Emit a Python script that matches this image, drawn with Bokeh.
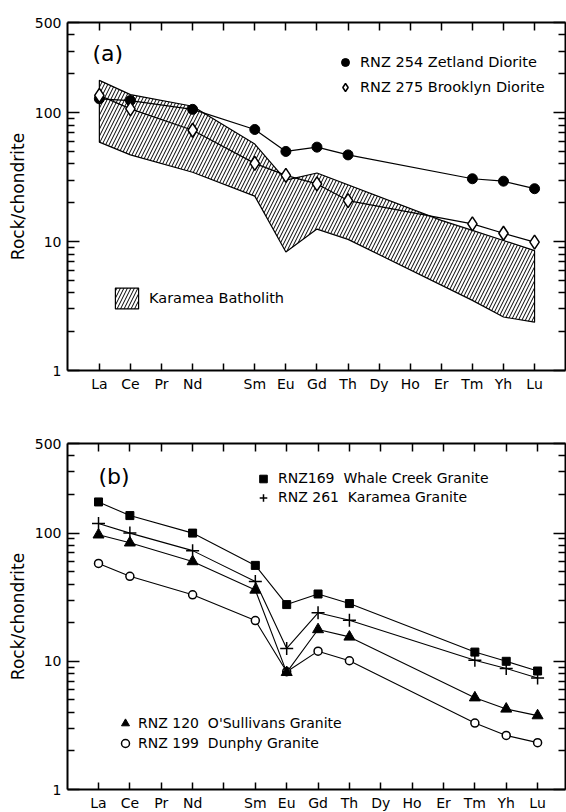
from bokeh.plotting import figure
from bokeh.models import FixedTicker, LinearAxis, LogAxis, Range1d, Legend, LegendItem, Label, BasicTickFormatter
from bokeh.layouts import column
from bokeh.embed import file_html
from bokeh.resources import INLINE

# ---------------- data ----------------
elements = ["La", "Ce", "Pr", "Nd", "", "Sm", "Eu", "Gd", "Th", "Dy", "Ho", "Er", "Tm", "Yh", "Lu"]
meas_idx = [0, 1, 3, 5, 6, 7, 8, 12, 13, 14]   # La Ce Nd Sm Eu Gd Th Tm Yh Lu

# panel (a)
zetland = [128, 124, 106, 74, 50, 54, 47, 30.7, 29.4, 25.7]
brooklyn = [136, 107, 73, 40.4, 32.6, 28, 20.8, 13.7, 11.6, 9.9]
band_upper_idx = [0, 1, 3, 5, 6, 7, 11, 12, 13, 14]
band_upper = [178, 138, 112, 57, 30, 34, 14.6, 12.2, 10.2, 8.5]
band_lower_idx = [0, 1, 3, 5, 6, 7, 8, 12, 13, 14]
band_lower = [59, 47, 34.5, 22.5, 8.3, 12.5, 10.4, 3.5, 2.6, 2.37]

# panel (b)
whale = [175, 137, 100, 56, 27.7, 33.5, 28.2, 11.8, 10.0, 8.4]
karamea = [119, 100, 73, 42, 12.6, 23.9, 20.9, 10.2, 8.8, 7.4]
osullivans = [97, 84, 60, 36, 8.2, 17.7, 15.5, 5.2, 4.25, 3.77]
dunphy = [58, 46, 33, 20.8, 8.3, 12.0, 10.1, 3.3, 2.64, 2.32]

y_major = [1, 10, 100, 500]
y_minor = [2, 3, 4, 5, 6, 7, 8, 9, 20, 30, 40, 50, 60, 70, 80, 90, 200, 300, 400]

FONT = "DejaVu Sans"


def make_fig(height, top, left, bottom, xr):
    p = figure(width=566, height=height, y_axis_type="log",
               x_range=Range1d(*xr), y_range=Range1d(1, 500),
               output_backend="svg", toolbar_location=None,
               min_border_top=top, min_border_left=left, min_border_right=1,
               min_border_bottom=bottom)
    p.outline_line_color = None
    p.grid.visible = False
    p.background_fill_color = "white"
    p.border_fill_color = "white"

    xt = FixedTicker(ticks=list(range(len(elements))))
    yt = FixedTicker(ticks=y_major, minor_ticks=y_minor)

    # bottom axis
    xa = p.xaxis[0]
    xa.ticker = xt
    xa.major_label_overrides = {i: n for i, n in enumerate(elements)}
    xa.major_tick_in = 7
    xa.major_tick_out = 0
    xa.minor_tick_in = 0
    xa.minor_tick_out = 0
    xa.major_label_standoff = 5
    xa.major_label_text_font = FONT
    xa.major_label_text_font_size = "14px"
    xa.major_label_text_color = "black"

    # left axis
    ya = p.yaxis[0]
    ya.ticker = yt
    ya.formatter = BasicTickFormatter()
    ya.major_tick_in = 12
    ya.major_tick_out = 0
    ya.minor_tick_in = 7
    ya.minor_tick_out = 0
    ya.major_label_standoff = 6
    ya.major_label_text_font = FONT
    ya.major_label_text_font_size = "14px"
    ya.major_label_text_color = "black"
    ya.axis_label = "Rock/chondrite"
    ya.axis_label_text_font = FONT
    ya.axis_label_text_font_size = "17px"
    ya.axis_label_text_font_style = "normal"
    ya.axis_label_text_color = "black"
    ya.axis_label_standoff = 4

    top_ax = LinearAxis(ticker=xt, major_label_overrides={i: "" for i in range(len(elements))},
                        major_tick_in=8, major_tick_out=0, minor_tick_in=0, minor_tick_out=0,
                        major_label_standoff=0)
    right_ax = LogAxis(ticker=yt, major_label_overrides={v: "" for v in y_major},
                       major_tick_in=12, major_tick_out=0, minor_tick_in=7, minor_tick_out=0,
                       major_label_standoff=0)
    p.add_layout(top_ax, "above")
    p.add_layout(right_ax, "right")

    for ax in [xa, ya, top_ax, right_ax]:
        ax.axis_line_width = 2
        ax.axis_line_color = "black"
        ax.major_tick_line_width = 1.5
        ax.major_tick_line_color = "black"
        ax.minor_tick_line_width = 1.5
        ax.minor_tick_line_color = "black"
    return p


# ---------------- panel (a) ----------------
pa = make_fig(400, 22, 65, 30, (-1.025, 14.995))

bx = band_upper_idx + band_lower_idx[::-1]
by = band_upper + band_lower[::-1]
band = pa.patch(bx, by, fill_alpha=0, hatch_pattern="/", hatch_color="black",
                hatch_weight=1.0, hatch_scale=7, line_color="black", line_width=1.2)

pa.line(meas_idx, zetland, line_color="black", line_width=1.2)
pa.line(meas_idx, brooklyn, line_color="black", line_width=1.2)
r_zet = pa.scatter(meas_idx, zetland, marker="circle", size=10, fill_color="black", line_color="black")
r_bro = pa.scatter(meas_idx, brooklyn, marker="diamond", size=14, fill_color="white",
                   line_color="black", line_width=1.5)

leg_a1 = Legend(items=[LegendItem(label="RNZ 254 Zetland Diorite", renderers=[r_zet]),
                       LegendItem(label="RNZ 275 Brooklyn Diorite", renderers=[r_bro])],
                location=(268, 273), padding=0, margin=0, spacing=5,
                glyph_width=20, glyph_height=20, label_height=20, label_standoff=5,
                label_text_font=FONT, label_text_font_size="14.5px", label_text_color="black",
                border_line_color=None, background_fill_alpha=0)
leg_a2 = Legend(items=[LegendItem(label="Karamea Batholith", renderers=[band])],
                location=(45, 59.5), padding=0, margin=0, spacing=0,
                glyph_width=29, glyph_height=26, label_height=26, label_standoff=8,
                label_text_font=FONT, label_text_font_size="14.5px", label_text_color="black",
                border_line_color=None, background_fill_alpha=0)
pa.add_layout(leg_a1, "center")
pa.add_layout(leg_a2, "center")
pa.add_layout(Label(x=25, y=317, x_units="screen", y_units="screen", text="(a)",
                    text_font=FONT, text_font_size="22px", text_baseline="middle",
                    text_align="left", text_color="black"))

# ---------------- panel (b) ----------------
pb = make_fig(413, 43, 67, 22, (-0.989, 14.89))

for series in [whale, karamea, osullivans, dunphy]:
    pb.line(meas_idx, series, line_color="black", line_width=1.1)
r_du = pb.scatter(meas_idx, dunphy, marker="circle", size=8, fill_color="white", line_color="black",
                  line_width=1.5)
r_os = pb.scatter(meas_idx, osullivans, marker="triangle", size=11, fill_color="black", line_color="black")
r_wh = pb.scatter(meas_idx, whale, marker="square", size=8, fill_color="black", line_color="black")
r_ka = pb.scatter(meas_idx, karamea, marker="cross", size=13, line_color="black", line_width=1.5)

leg_b1 = Legend(items=[LegendItem(label="RNZ169  Whale Creek Granite", renderers=[r_wh]),
                       LegendItem(label="RNZ 261  Karamea Granite", renderers=[r_ka])],
                location=(186, 282.5), padding=0, margin=0, spacing=0,
                glyph_width=20, glyph_height=19, label_height=19, label_standoff=5,
                label_text_font=FONT, label_text_font_size="14px", label_text_color="black",
                border_line_color=None, background_fill_alpha=0)
leg_b2 = Legend(items=[LegendItem(label="RNZ 120  O'Sullivans Granite", renderers=[r_os]),
                       LegendItem(label="RNZ 199  Dunphy Granite", renderers=[r_du])],
                location=(48, 36), padding=0, margin=0, spacing=0,
                glyph_width=20, glyph_height=20, label_height=20, label_standoff=3,
                label_text_font=FONT, label_text_font_size="14px", label_text_color="black",
                border_line_color=None, background_fill_alpha=0)
pb.add_layout(leg_b1, "center")
pb.add_layout(leg_b2, "center")
pb.add_layout(Label(x=31, y=313, x_units="screen", y_units="screen", text="(b)",
                    text_font=FONT, text_font_size="22px", text_baseline="middle",
                    text_align="left", text_color="black"))

layout = column(pa, pb, spacing=0)
open("out.html", "w").write(file_html(layout, INLINE))
